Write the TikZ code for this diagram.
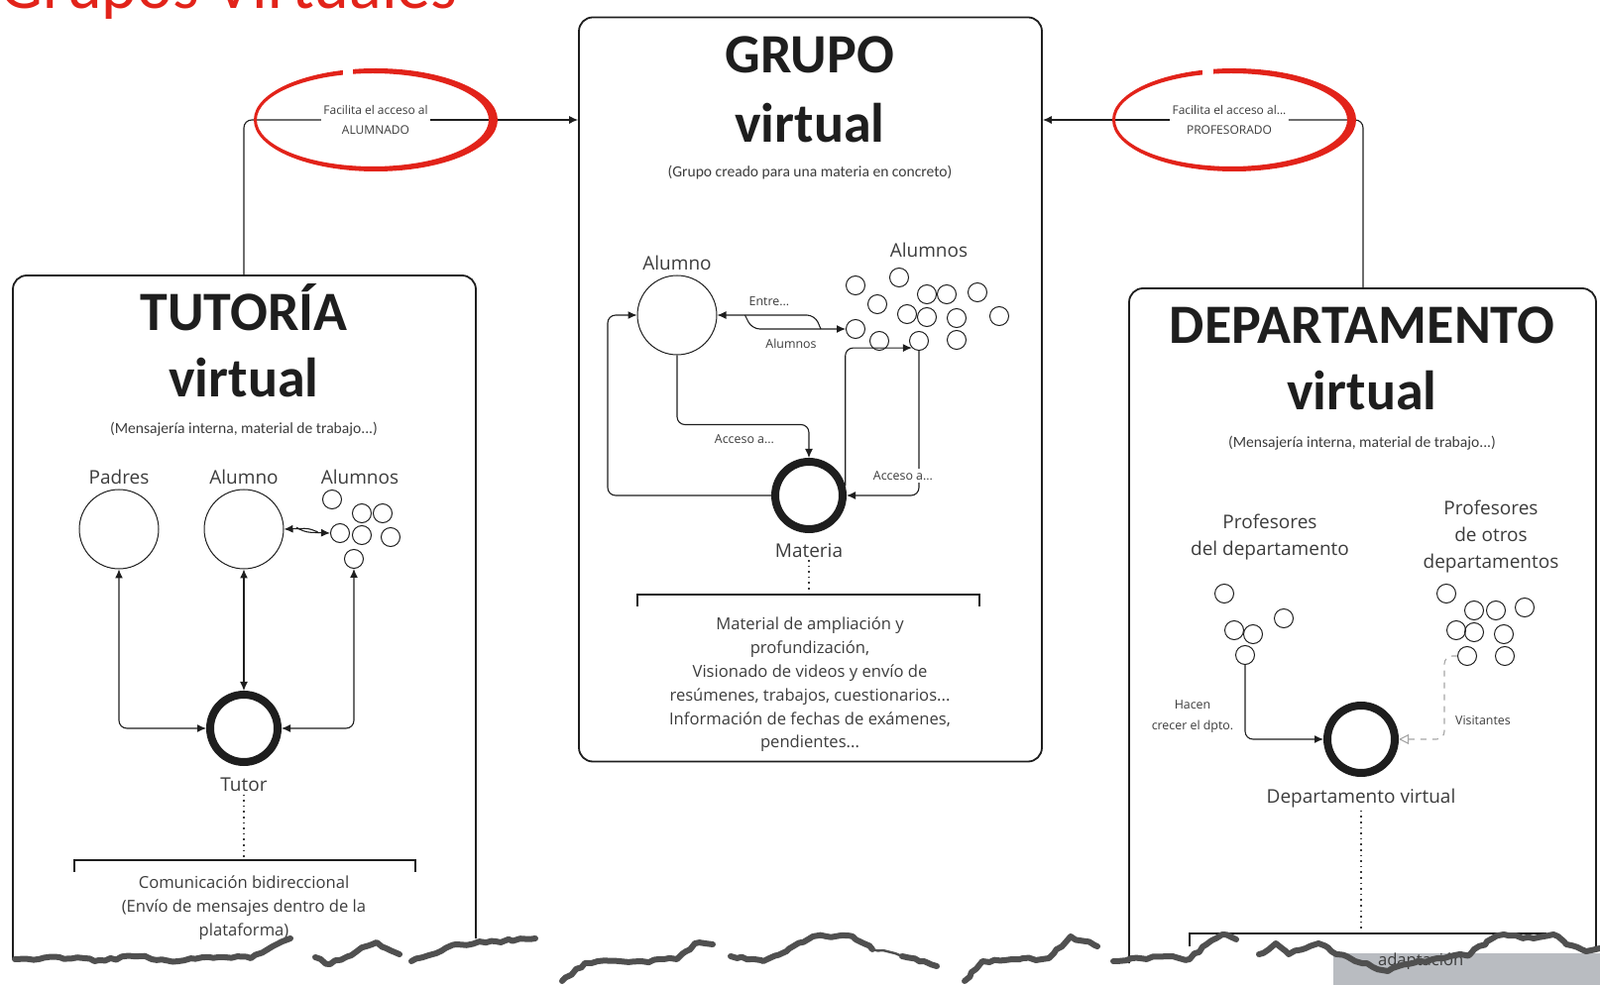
\documentclass[tikz,border=0pt]{standalone}
\usepackage{fontspec}
\setmainfont{Open Sans}
\newfontfamily\headfont{Carlito}
\usetikzlibrary{positioning,arrows.meta,calc,decorations.pathmorphing}
\definecolor{ink}{HTML}{1E1E1E}
\definecolor{ink2}{HTML}{3C3C3C}
\definecolor{hilite}{HTML}{E2231A}
\definecolor{tear}{HTML}{505050}
\definecolor{slab}{HTML}{B9BCC1}
\tikzset{
  panel/.style={draw=ink, line width=0.9pt, rounded corners=7pt},
  ttl/.style={font=\headfont\bfseries\fontsize{28}{30}\selectfont, anchor=base, inner sep=0pt, text=ink},
  sub/.style={font=\headfont\fontsize{7.8}{9}\selectfont, text=ink2, inner sep=1pt},
  lab/.style={font=\fontsize{9.5}{13.5}\selectfont, text=ink2, align=center, inner sep=1pt},
  tiny/.style={font=\fontsize{6.2}{10.5}\selectfont, text=ink2, align=center, inner sep=1pt},
  body/.style={font=\fontsize{8.3}{11.9}\selectfont, text=ink2, align=center},
  note/.style={fill=white, font=\fontsize{6}{10}\selectfont, text=ink2, align=center, inner sep=1pt},
  who/.style={circle, draw=ink, line width=0.5pt, minimum size=40pt, inner sep=0pt},
  pdot/.style={circle, draw=ink, line width=0.5pt, minimum size=9.5pt, inner sep=0pt},
  hub/.style={circle, draw=ink, line width=4pt, minimum size=34pt, inner sep=0pt},
  wire/.style={draw=ink, line width=0.55pt, rounded corners=4pt},
  arr/.style={wire, -{Latex[length=4.5pt,width=4pt]}},
  arr2/.style={wire, {Latex[length=4.5pt,width=4pt]}-{Latex[length=4.5pt,width=4pt]}},
  visit/.style={draw=gray!70, line width=0.55pt, dashed, rounded corners=4pt, -{Triangle[open,length=5pt,width=5pt]}},
  brace/.style={draw=ink, line width=0.7pt},
  dots/.style={draw=ink2, line width=0.8pt, dotted},
  torn/.style={draw=tear, line width=3pt, line join=round, line cap=round, decorate, decoration={random steps, segment length=3pt, amplitude=0.8pt}},
}
\begin{document}
\begin{tikzpicture}[x=0.5pt,y=-0.5pt]
  \useasboundingbox (0,0) rectangle (1614,994);
  \clip (0,0) rectangle (1614,994);
  % slide title, cut off at the top
  \node[font=\headfont\fontsize{34}{36}\selectfont, text=hilite, anchor=base west, inner sep=0pt] (slide) at (0,9) {Grupos Virtuales};
  % panels
  \node[panel, minimum width=233.5pt, minimum height=375.5pt] (grupo) at (817.5,393) {};
  \draw[panel] (13,968) |- (480,278) -- (480,947);
  \draw[panel] (1139,972) |- (1610,291) -- (1610,960);
  \coordinate (tutTop) at (246,278);
  \coordinate (dptTop) at (1375,291);
  \node[ttl] (grupoA) at (817,74) {GRUPO};
  \node[ttl] (grupoB) at (817,144) {virtual};
  \node[sub] (grupoSub) at (817,174) {(Grupo creado para una materia en concreto)};
  \node[ttl] (tutA) at (246,334) {TUTORÍA};
  \node[ttl] (tutB) at (246,401) {virtual};
  \node[sub] (tutSub) at (246,433) {(Mensajería interna, material de trabajo...)};
  \node[ttl] (dptA) at (1374,347) {DEPARTAMENTO};
  \node[ttl] (dptB) at (1374,414) {virtual};
  \node[sub] (dptSub) at (1374,447) {(Mensajería interna, material de trabajo...)};

  % links into the group (highlighted)
  \node[note] (acc1) at (379,121) {Facilita el acceso al\\ALUMNADO};
  \draw[wire] (tutTop) |- (acc1);
  \draw[arr] (acc1) -- (acc1 -| grupo.west);
  \node[note] (acc2) at (1240,121) {Facilita el acceso al...\\PROFESORADO};
  \draw[wire] (dptTop) |- (acc2);
  \draw[arr] (acc2) -- (acc2 -| grupo.east);
  \fill[hilite, even odd rule] (379,121) ellipse[x radius=123, y radius=52] (376,121) ellipse[x radius=117, y radius=47];
  \fill[hilite, even odd rule] (1245,121) ellipse[x radius=123, y radius=52] (1242,121) ellipse[x radius=117, y radius=47];
  \fill[white] (346,60) rectangle (356,80);
  \fill[white] (1213,60) rectangle (1224,80);

  % tutoria
  \node[who] (padres) at (120,534) {};
  \node[who] (alumnoT) at (246,534) {};
  \node[lab, above=1pt of padres] (padresL) {Padres};
  \node[lab, above=1pt of alumnoT] (alumnoTL) {Alumno};
  \foreach \n/\x/\y in {1/335/504, 2/365/518, 3/386/518, 4/343/538, 5/365/540, 6/394/542, 7/357/564}
    \node[pdot] (tut\n) at (\x,\y) {};
  \node[lab] (tutAlL) at (363,481) {Alumnos};
  \node[hub] (tutor) at (246,735) {};
  \node[lab, below=5pt of tutor] (tutorL) {Tutor};
  \draw[arr2] (padres.south) |- (tutor.west);
  \draw[arr2] (alumnoT.south) -- (tutor.north);
  \draw[arr2] (tut7.south) |- (tutor.east);
  \draw[arr] (tut4.west) ++(-14,-2) -- ++(-4,-3) -- (alumnoT.east);
  \draw[arr] (alumnoT.east) ++(15,0) -- ++(4,3) -- (tut4.west);
  \coordinate (tutBr) at (246,868);
  \draw[dots] (tutorL.south) -- (tutBr);
  \draw[brace] (75,880) |- (419,868) -- (419,880);
  \node[body] (tutTxt) at (246,916) {Comunicación bidireccional\\(Envío de mensajes dentro de la\\plataforma)};

  % grupo
  \node[who] (alumnoG) at (683,318) {};
  \node[lab, above=1pt of alumnoG] (alumnoGL) {Alumno};
  \foreach \n/\x/\y in {1/863/288, 2/907/280, 3/885/307, 4/935/297, 5/955/297, 6/986/295, 7/915/317,
      8/935/320, 9/965/321, 10/1008/319, 11/863/332, 12/887/344, 13/927/344, 14/965/343}
    \node[pdot] (al\n) at (\x,\y) {};
  \node[lab] (alL) at (937,252) {Alumnos};
  \node[hub] (materia) at (816,500) {};
  \node[lab, below=4pt of materia] (materiaL) {Materia};
  \draw[arr] (al11.west) ++(-25,0) -- ++(-6,-14) -- (alumnoG.east);
  \draw[arr] (alumnoG.east) ++(28,0) -- ++(7,14) -- (al11.west);
  \node[tiny] (entreL) at (776,304) {Entre...};
  \node[tiny] (entreL2) at (798,347) {Alumnos};
  \draw[arr] (alumnoG.south) -- ++(0,70) -| (materia.north);
  \node[tiny] (accA) at (751,443) {Acceso a...};
  \draw[arr] (materia.west) -- ++(-165,0) |- (alumnoG.west);
  \draw[arr] (materia.15) |- (al13.south west);
  \draw[arr] (al13.south) |- (materia.east);
  \node[tiny, fill=white] (accB) at (911,480) {Acceso a...};
  \coordinate (grupoBr) at (816,600);
  \draw[dots] (materiaL.south) -- (grupoBr);
  \draw[brace] (643,612) |- (988,600) -- (988,612);
  \node[body] (grupoTxt) at (817,691) {Material de ampliación y\\profundización,\\Visionado de videos y envío de\\resúmenes, trabajos, cuestionarios...\\Información de fechas de exámenes,\\pendientes...};

  % departamento
  \node[lab] (pdL) at (1281,542) {Profesores\\del departamento};
  \node[lab] (poL) at (1504,542) {Profesores\\de otros\\departamentos};
  \foreach \n/\x/\y in {1/1235/599, 2/1295/624, 3/1245/636, 4/1264/640, 5/1256/661}
    \node[pdot] (pd\n) at (\x,\y) {};
  \foreach \n/\x/\y in {1/1459/599, 2/1487/616, 3/1509/616, 4/1538/613, 5/1469/636, 6/1487/638, 7/1517/640, 8/1480/662, 9/1518/662}
    \node[pdot] (po\n) at (\x,\y) {};
  \node[hub] (dpto) at (1373,746) {};
  \node[lab, below=5pt of dpto] (dptoL) {Departamento virtual};
  \draw[arr] (pd5.south) |- (dpto.west);
  \draw[visit] (po8.west) -- ++(-13,0) |- (dpto.east);
  \node[tiny] (hacenL) at (1203,723) {Hacen\\crecer el dpto.};
  \node[tiny] (visitL) at (1496,727) {Visitantes};
  \coordinate (dptBr) at (1373,942);
  \draw[dots] (dptoL.south) -- (dptBr);
  \draw[brace] (1200,955) |- (1560,942);

  % torn lower edge
  \fill[slab] (1345,962) rectangle (1614,994);
  \node[body, anchor=west] (dptTxt) at (1383,970) {adaptación};
  \draw[torn] (15,968) -- (60,966) -- (100,969) -- (140,965) -- (180,970) -- (220,966) -- (253,967) -- (275,955) -- (293,947);
  \draw[torn] (318,966) -- (333,973) -- (360,960) -- (380,951) -- (403,963);
  \draw[torn] (415,970) -- (440,962) -- (460,953) -- (500,950) -- (540,947);
  \draw[torn] (567,990) -- (590,972) -- (603,970) -- (647,970) -- (683,968) -- (701,952) -- (719,953);
  \draw[torn] (737,965) -- (770,970) -- (800,955) -- (820,945) -- (860,945) -- (880,958);
  \draw[torn, line width=1.2pt] (880,958) -- (910,965);
  \draw[torn] (910,965) -- (945,975);
  \draw[torn] (973,990) -- (991,970) -- (1058,967) -- (1080,945) -- (1107,955);
  \draw[torn] (1123,970) -- (1150,967) -- (1177,965) -- (1200,968) -- (1217,953) -- (1233,943) -- (1247,948);
  \draw[torn] (1270,963) -- (1287,952) -- (1300,963) -- (1317,957) -- (1330,952) -- (1343,960) -- (1367,970) -- (1400,980) -- (1420,973) -- (1450,967) -- (1483,963) -- (1500,950) -- (1517,943) -- (1547,947) -- (1567,943) -- (1580,953) -- (1600,960) -- (1614,957);
\end{tikzpicture}
\end{document}
